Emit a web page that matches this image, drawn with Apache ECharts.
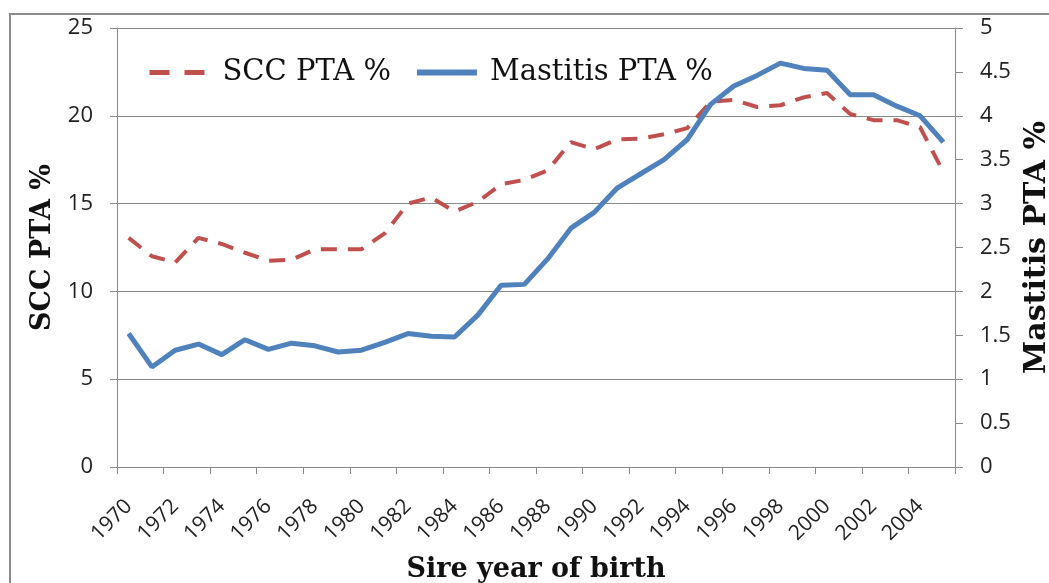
<!DOCTYPE html>
<html>
<head>
<meta charset="utf-8">
<script src="https://cdn.jsdelivr.net/npm/echarts@6/dist/echarts.min.js"></script>
<style>
  html, body { margin: 0; padding: 0; background: #fff; }
  #chart { width: 1049px; height: 583px; }
</style>
</head>
<body>
<div id="chart"></div>
<script>
// Sire birth years on the category axis
const years = ['1970','1971','1972','1973','1974','1975','1976','1977','1978','1979',
  '1980','1981','1982','1983','1984','1985','1986','1987','1988','1989',
  '1990','1991','1992','1993','1994','1995','1996','1997','1998','1999',
  '2000','2001','2002','2003','2004','2005'];

// SCC PTA % (left axis)
const sccPta = [13.05, 12.0, 11.65, 13.05, 12.7, 12.2, 11.75, 11.8, 12.4, 12.4,
  12.4, 13.3, 15.0, 15.35, 14.55, 15.1, 16.1, 16.35, 16.9, 18.5,
  18.1, 18.65, 18.7, 18.95, 19.3, 20.8, 20.9, 20.5, 20.6, 21.05,
  21.3, 20.1, 19.75, 19.75, 19.35, 16.8];

// Mastitis PTA % (right axis)
const mastitisPta = [1.52, 1.14, 1.33, 1.40, 1.28, 1.45, 1.34, 1.41, 1.38, 1.31,
  1.33, 1.42, 1.52, 1.49, 1.48, 1.73, 2.07, 2.08, 2.37, 2.72,
  2.90, 3.18, 3.34, 3.50, 3.73, 4.13, 4.34, 4.46, 4.60, 4.54,
  4.52, 4.24, 4.24, 4.11, 4.00, 3.70];

// Axis ranges
const leftAxis = { min: 0, max: 25, interval: 5 };
const rightAxis = { min: 0, max: 5, interval: 0.5 };

const sccColor = '#C0504D';
const mastitisColor = '#4F81BD';
const gridGrey = '#8a8a8a';
const tickFont = '"Open Sans", sans-serif';
const titleFont = '"DejaVu Serif", serif';

const chart = echarts.init(document.getElementById('chart'), null, { renderer: 'canvas' });

chart.setOption({
  animation: false,
  backgroundColor: '#fff',
  graphic: [{
    type: 'rect',
    shape: { x: 10, y: 14, width: 1100, height: 620 },
    style: { fill: 'none', stroke: '#8c8c8c', lineWidth: 2 },
    silent: true,
    z: -1
  }],
  grid: { left: 117, right: 94, top: 28, bottom: 116, containLabel: false, outerBoundsMode: 'none' },
  legend: {
    left: 142,
    top: 53,
    itemWidth: 60,
    itemHeight: 30,
    itemGap: 23,
    itemStyle: { opacity: 0 },
    textStyle: { fontFamily: titleFont, fontSize: 29, color: '#111', padding: [0, 0, 0, 8] },
    data: [
      { name: 'SCC PTA %', lineStyle: { color: sccColor, width: 5, type: [20, 15] } },
      { name: 'Mastitis PTA %', lineStyle: { color: mastitisColor, width: 6 } }
    ]
  },
  xAxis: {
    type: 'category',
    data: years,
    boundaryGap: true,
    name: 'Sire year of birth',
    nameLocation: 'middle',
    nameGap: 89,
    nameTextStyle: { fontFamily: titleFont, fontWeight: 'bold', fontSize: 27, color: '#111' },
    axisLine: { lineStyle: { color: gridGrey, width: 1 } },
    axisTick: { show: true, interval: 1, length: 7, lineStyle: { color: gridGrey } },
    axisLabel: {
      interval: 1,
      rotate: 45,
      margin: 36,
      fontFamily: tickFont,
      fontSize: 21,
      color: '#222'
    },
    splitLine: { show: false }
  },
  yAxis: [{
    type: 'value',
    min: leftAxis.min,
    max: leftAxis.max,
    interval: leftAxis.interval,
    position: 'left',
    name: 'SCC PTA %',
    nameLocation: 'middle',
    nameRotate: 90,
    nameGap: 60,
    nameTextStyle: { fontFamily: titleFont, fontWeight: 'bold', fontSize: 27, color: '#111' },
    axisLine: { show: true, lineStyle: { color: gridGrey, width: 1 } },
    axisTick: { show: true, length: 7, lineStyle: { color: gridGrey } },
    axisLabel: { margin: 24, fontFamily: tickFont, fontSize: 22, color: '#222' },
    splitLine: { show: true, lineStyle: { color: gridGrey, width: 1 } }
  }, {
    type: 'value',
    min: rightAxis.min,
    max: rightAxis.max,
    interval: rightAxis.interval,
    position: 'right',
    name: 'Mastitis PTA %',
    nameLocation: 'middle',
    nameRotate: 90,
    nameGap: 66,
    nameTextStyle: { fontFamily: titleFont, fontWeight: 'bold', fontSize: 30, color: '#111' },
    axisLine: { show: true, lineStyle: { color: gridGrey, width: 1 } },
    axisTick: { show: true, length: 8, lineStyle: { color: gridGrey } },
    axisLabel: { margin: 25, fontFamily: tickFont, fontSize: 22, color: '#222' },
    splitLine: { show: false }
  }],
  series: [{
    name: 'SCC PTA %',
    type: 'line',
    yAxisIndex: 0,
    data: sccPta,
    symbol: 'none',
    color: sccColor,
    lineStyle: { color: sccColor, width: 4, type: [16, 11] },
    z: 2
  }, {
    name: 'Mastitis PTA %',
    type: 'line',
    yAxisIndex: 1,
    data: mastitisPta,
    symbol: 'none',
    color: mastitisColor,
    lineStyle: { color: mastitisColor, width: 5 },
    z: 3
  }]
});
</script>
</body>
</html>
